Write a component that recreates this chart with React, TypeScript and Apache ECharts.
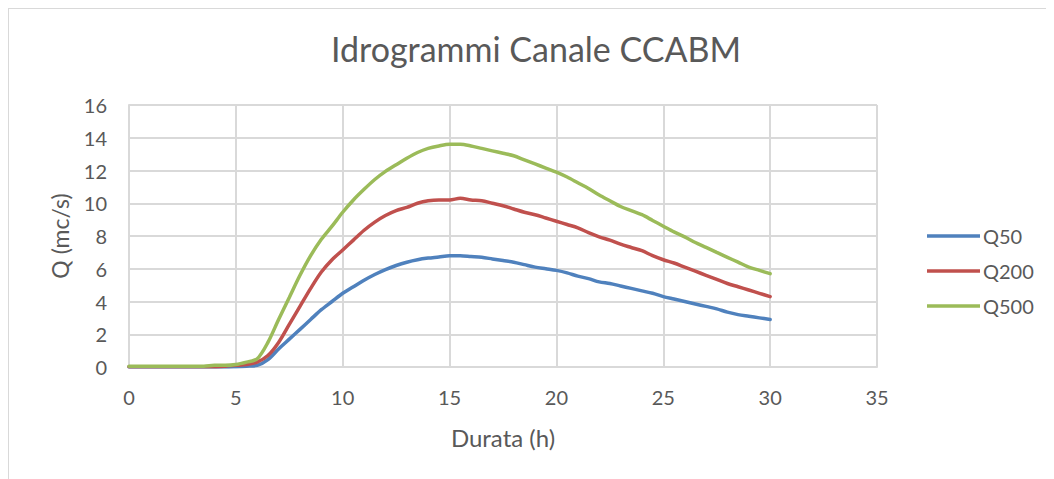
import React, { useEffect, useRef } from "react";
import * as echarts from "echarts";

const titleText = "Idrogrammi Canale CCABM";
const xAxisName = "Durata (h)";
const yAxisName = "Q (mc/s)";
const seriesNames = ["Q50", "Q200", "Q500"];
const colors = ["#4F81BD", "#C0504D", "#9BBB59"];

const hours = [
  0, 0.5, 1, 1.5, 2, 2.5, 3, 3.5, 4, 4.5, 5, 5.5, 6, 6.5, 7, 7.5, 8, 8.5, 9, 9.5,
  10, 10.5, 11, 11.5, 12, 12.5, 13, 13.5, 14, 14.5, 15, 15.5, 16, 16.5, 17, 17.5,
  18, 18.5, 19, 19.5, 20, 20.5, 21, 21.5, 22, 22.5, 23, 23.5, 24, 24.5, 25, 25.5,
  26, 26.5, 27, 27.5, 28, 28.5, 29, 29.5, 30,
];

const q50 = [
  0, 0, 0, 0, 0, 0, 0, 0, 0, 0, 0.02, 0.05, 0.1, 0.45, 1.1, 1.7, 2.3, 2.9, 3.5, 4.0,
  4.5, 4.9, 5.3, 5.65, 5.95, 6.2, 6.4, 6.55, 6.65, 6.72, 6.8, 6.8, 6.75, 6.7, 6.6, 6.5,
  6.4, 6.25, 6.1, 6.0, 5.9, 5.75, 5.55, 5.4, 5.2, 5.1, 4.95, 4.8, 4.65, 4.5, 4.3, 4.15,
  4.0, 3.85, 3.7, 3.55, 3.35, 3.2, 3.1, 3.0, 2.9,
];

const q200 = [
  0.02, 0.02, 0.02, 0.02, 0.02, 0.02, 0.02, 0.02, 0.02, 0.05, 0.1, 0.15, 0.3, 0.7, 1.5, 2.6, 3.7, 4.8, 5.8, 6.55,
  7.15, 7.75, 8.35, 8.85, 9.25, 9.55, 9.75, 10.0, 10.15, 10.2, 10.2, 10.3, 10.2, 10.15, 10.0, 9.85,
  9.65, 9.45, 9.3, 9.1, 8.9, 8.7, 8.5, 8.2, 7.95, 7.75, 7.5, 7.3, 7.1, 6.8, 6.55, 6.35,
  6.1, 5.85, 5.6, 5.35, 5.1, 4.9, 4.7, 4.5, 4.3,
];

const q500 = [
  0.05, 0.05, 0.05, 0.05, 0.05, 0.05, 0.05, 0.05, 0.1, 0.1, 0.15, 0.3, 0.5, 1.5, 2.9, 4.25, 5.6, 6.8, 7.8, 8.6,
  9.45, 10.2, 10.85, 11.45, 11.95, 12.35, 12.75, 13.1, 13.35, 13.5, 13.6, 13.6, 13.5, 13.35, 13.2, 13.05,
  12.9, 12.65, 12.4, 12.15, 11.9, 11.6, 11.25, 10.9, 10.5, 10.15, 9.8, 9.55, 9.3, 8.95, 8.6, 8.25,
  7.95, 7.6, 7.3, 7.0, 6.7, 6.4, 6.1, 5.9, 5.7,
];

const seriesValues = [q50, q200, q500];

const FONT = "Lato";
const TEXT = "#595959";
const GRID = "#d9d9d9";

export default function App() {
  const ref = useRef<HTMLDivElement>(null);
  useEffect(() => {
    if (!ref.current) return;
    const chart = echarts.init(ref.current, null, { renderer: "svg" });
    chart.setOption({
      animation: false,
      backgroundColor: "#ffffff",
      textStyle: { fontFamily: FONT, color: TEXT },
      title: {
        text: titleText,
        left: 522,
        top: 17,
        textAlign: "center",
        textStyle: { fontFamily: FONT, fontSize: 34, fontWeight: "normal", color: TEXT },
      },
      legend: {
        orient: "vertical",
        left: 913,
        top: 212,
        itemGap: 15,
        itemWidth: 53,
        itemHeight: 20,
        icon: "path://M0,8.2 L53,8.2 L53,11.8 L0,11.8 Z",
        textStyle: { fontFamily: FONT, fontSize: 20, color: TEXT, padding: [0, 0, 0, -2], lineHeight: 20 },
        data: seriesNames.map((n, i) => ({ name: n, itemStyle: { color: colors[i] } })),
      },
      grid: { left: 120, top: 96, width: 748, height: 262, containLabel: false },
      xAxis: {
        type: "value",
        min: 0,
        max: 35,
        interval: 5,
        name: xAxisName,
        nameLocation: "middle",
        nameGap: 58,
        nameTextStyle: { fontFamily: FONT, fontSize: 24, color: TEXT },
        axisLine: { show: true, onZero: false, lineStyle: { color: GRID, width: 2 } },
        axisTick: { show: false },
        axisLabel: { fontFamily: FONT, fontSize: 20, color: TEXT, margin: 20 },
        splitLine: { show: true, lineStyle: { color: GRID, width: 2 } },
      },
      yAxis: {
        type: "value",
        min: 0,
        max: 16,
        interval: 2,
        name: yAxisName,
        nameLocation: "middle",
        nameGap: 58,
        nameRotate: 90,
        nameTextStyle: { fontFamily: FONT, fontSize: 23, color: TEXT },
        axisLine: { show: true, lineStyle: { color: GRID, width: 2 } },
        axisTick: { show: false },
        axisLabel: { fontFamily: FONT, fontSize: 20, color: TEXT, margin: 22 },
        splitLine: { show: true, lineStyle: { color: GRID, width: 2 } },
      },
      series: seriesNames.map((n, i) => ({
        name: n,
        type: "line",
        showSymbol: false,
        symbol: "none",
        smooth: 0.3,
        lineStyle: { color: colors[i], width: 3.5, cap: "round" },
        itemStyle: { color: colors[i] },
        data: hours.map((h, k) => [h, seriesValues[i][k]]),
      })),
    });
    return () => chart.dispose();
  }, []);
  return (
    <div
      style={{
        width: 1046,
        height: 471,
        borderTop: "1px solid #d9d9d9",
        borderLeft: "1px solid #d9d9d9",
        boxSizing: "border-box",
        overflow: "hidden",
      }}
    >
      <div ref={ref} style={{ width: 1045, height: 470 }} />
    </div>
  );
}
